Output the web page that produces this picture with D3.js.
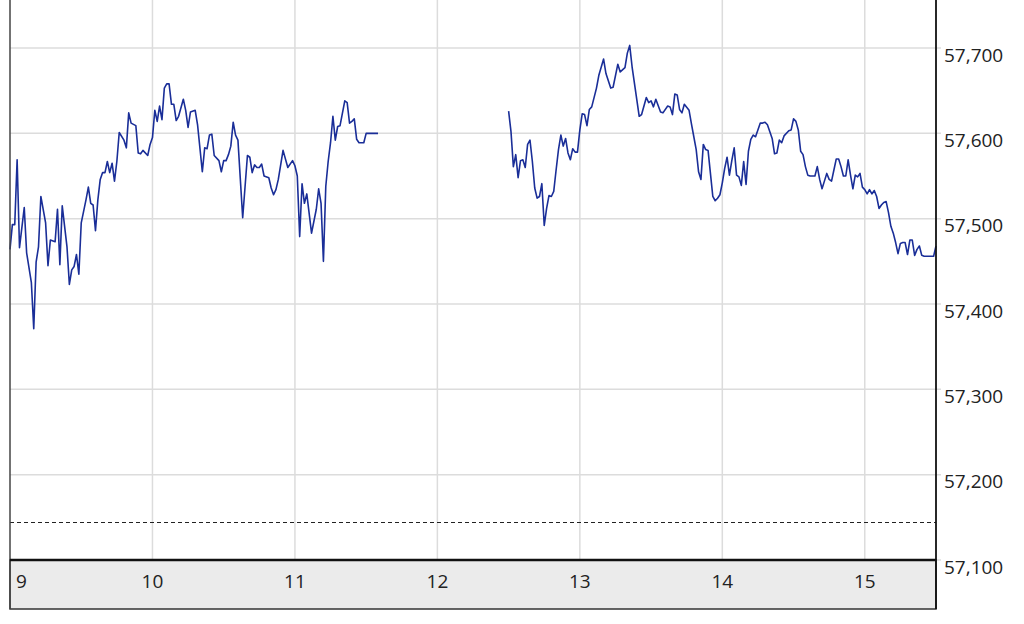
<!DOCTYPE html>
<html>
<head>
<meta charset="utf-8">
<script src="https://cdn.jsdelivr.net/npm/d3@7"></script>
<style>
  body { margin: 0; background: #fff; }
  text { font-family: "Open Sans", "Noto Sans", sans-serif; }
</style>
</head>
<body>
<div id="chart"></div>
<script>
// Intraday prices, time = minutes after 9:00
const amTimes = [0,1,2,3,4,6,7,9,10,11,12,13,15,16,17,19,20,21,22,24,25,26,27,28,29,30,32,33,34,35,36,37,38,39,40,41,42,43,44,45,46,48,49,50,51,53,54,55,56,58,59,60,61,62,63,64,65,66,67,68,69,70,71,73,74,75,76,78,79,81,82,83,84,85,86,88,89,90,91,92,93,94,95,96,98,100,101,102,103,104,105,106,107,109,110,111,112,113,115,117,119,120,121,122,123,124,125,127,129,130,131,132,133,134,135,136,137,138,139,141,142,143,144,145,146,147,149,150,155];
const amPrices = [57464,57493,57493,57569,57466,57513,57460,57425,57371,57449,57467,57526,57495,57445,57475,57473,57511,57446,57515,57467,57423,57440,57444,57458,57435,57495,57522,57537,57518,57516,57486,57522,57546,57554,57554,57567,57554,57565,57544,57567,57601,57592,57583,57624,57612,57609,57577,57576,57580,57574,57587,57595,57627,57614,57632,57616,57653,57658,57658,57634,57634,57615,57620,57640,57627,57607,57625,57627,57610,57555,57583,57582,57598,57599,57574,57568,57555,57568,57568,57575,57585,57613,57598,57592,57501,57574,57572,57554,57563,57560,57560,57564,57550,57548,57536,57528,57534,57546,57580,57560,57568,57562,57550,57479,57541,57518,57529,57483,57511,57535,57518,57450,57538,57567,57589,57620,57592,57608,57609,57638,57636,57612,57614,57617,57593,57589,57589,57600,57600];

const pmTimes = [210,211,212,213,214,215,216,217,218,219,220,221,222,223,224,225,226,227,228,229,230,231,232,233,234,235,236,237,238,239,240,241,242,243,244,245,247,248,250,251,253,254,256,257,259,260,261,262,265,266,268,269,270,271,272,274,275,277,278,279,280,281,282,283,284,286,287,288,289,290,291,292,293,294,295,296,297,298,299,300,301,302,303,304,305,306,307,308,309,310,311,312,313,314,316,317,318,319,321,322,323,324,325,326,328,329,330,331,332,333,334,335,336,337,339,340,341,342,343,344,345,346,347,348,349,350,351,352,353,354,355,356,357,358,359,360,361,362,363,364,365,366,367,368,369,370,371,372,373,374,375,376,377,378,379,380,381,382,383,384,385,389,390];
const pmPrices = [57626,57602,57561,57575,57548,57568,57569,57560,57587,57592,57567,57536,57524,57526,57541,57492,57512,57527,57526,57532,57557,57581,57598,57585,57594,57577,57569,57582,57578,57578,57604,57623,57622,57609,57628,57631,57653,57668,57687,57670,57653,57654,57681,57672,57677,57694,57703,57678,57620,57622,57642,57636,57638,57631,57640,57625,57624,57632,57631,57622,57646,57645,57628,57624,57634,57627,57611,57596,57581,57555,57546,57587,57581,57580,57553,57526,57521,57524,57528,57542,57559,57572,57551,57568,57583,57551,57549,57539,57567,57540,57579,57593,57598,57596,57612,57612,57613,57610,57594,57576,57577,57592,57589,57597,57603,57604,57617,57614,57604,57579,57575,57561,57551,57550,57550,57561,57546,57535,57544,57553,57546,57544,57557,57570,57570,57561,57550,57550,57569,57551,57535,57551,57549,57553,57537,57534,57529,57534,57529,57533,57526,57512,57516,57519,57520,57507,57491,57483,57472,57459,57471,57472,57472,57458,57475,57475,57457,57464,57468,57457,57456,57456,57468];

const hourTicks = [9, 10, 11, 12, 13, 14, 15];
const priceTicks = [57100, 57200, 57300, 57400, 57500, 57600, 57700];
const prevClose = 57145;

const width = 1024, height = 624;
const plot = { left: 10, right: 936, top: 0, bottom: 560, band: 609 };

const svg = d3.select('#chart')
    .append('svg')
    .attr('width', width)
    .attr('height', height);

// Scales
const x = d3.scaleLinear()
    .domain([0, 390])
    .range([plot.left, plot.right]);

const y = d3.scaleLinear()
    .domain([57100, 57700])
    .range([plot.bottom, 48]);

// Grid
svg.append('g')
    .selectAll('line')
    .data(priceTicks)
    .enter()
    .append('line')
    .attr('x1', plot.left)
    .attr('x2', plot.right + 5)
    .attr('y1', d => y(d))
    .attr('y2', d => y(d))
    .attr('stroke', '#dcdcdc')
    .attr('stroke-width', 1.5);

svg.append('g')
    .selectAll('line')
    .data(hourTicks.slice(1))
    .enter()
    .append('line')
    .attr('x1', d => x((d - 9) * 60))
    .attr('x2', d => x((d - 9) * 60))
    .attr('y1', plot.top)
    .attr('y2', plot.bottom)
    .attr('stroke', '#dcdcdc')
    .attr('stroke-width', 1.5);

// Previous close
svg.append('line')
    .attr('x1', plot.left)
    .attr('x2', plot.right)
    .attr('y1', Math.round(y(prevClose)) + 0.5)
    .attr('y2', Math.round(y(prevClose)) + 0.5)
    .attr('stroke', '#222')
    .attr('stroke-width', 1)
    .attr('stroke-dasharray', '4,3');

// Price line, one path per session
const line = d3.line()
    .x(d => x(d.t))
    .y(d => y(d.p));

const sessions = [
    amTimes.map((t, i) => ({ t: t, p: amPrices[i] })),
    pmTimes.map((t, i) => ({ t: t, p: pmPrices[i] }))
];

svg.append('g')
    .selectAll('path')
    .data(sessions)
    .enter()
    .append('path')
    .attr('d', line)
    .attr('fill', 'none')
    .attr('stroke', '#1a2e98')
    .attr('stroke-width', 1.6)
    .attr('stroke-linejoin', 'round');

// X axis band
svg.append('rect')
    .attr('x', plot.left)
    .attr('y', plot.bottom)
    .attr('width', plot.right - plot.left)
    .attr('height', plot.band - plot.bottom)
    .attr('fill', '#ebebeb')
    .attr('stroke', '#333')
    .attr('stroke-width', 1.5);

svg.append('g')
    .selectAll('text')
    .data(hourTicks)
    .enter()
    .append('text')
    .attr('x', d => d === 9 ? x(0) + 6 : x((d - 9) * 60))
    .attr('y', 588)
    .attr('text-anchor', d => d === 9 ? 'start' : 'middle')
    .attr('font-size', 19)
    .attr('fill', '#222')
    .text(d => d);

// Frame
svg.append('line')
    .attr('x1', plot.left).attr('x2', plot.left)
    .attr('y1', plot.top).attr('y2', plot.band)
    .attr('stroke', '#444').attr('stroke-width', 1.5);

svg.append('line')
    .attr('x1', plot.right).attr('x2', plot.right)
    .attr('y1', plot.top).attr('y2', plot.band)
    .attr('stroke', '#111').attr('stroke-width', 1.8);

svg.append('line')
    .attr('x1', plot.left).attr('x2', plot.right)
    .attr('y1', plot.bottom).attr('y2', plot.bottom)
    .attr('stroke', '#111').attr('stroke-width', 2.5);

// Y axis labels on the right
svg.append('g')
    .selectAll('text')
    .data(priceTicks)
    .enter()
    .append('text')
    .attr('x', 944)
    .attr('y', d => y(d) + 13.5)
    .attr('font-size', 19)
    .attr('fill', '#222')
    .text(d => d3.format(',')(d));
</script>
</body>
</html>
